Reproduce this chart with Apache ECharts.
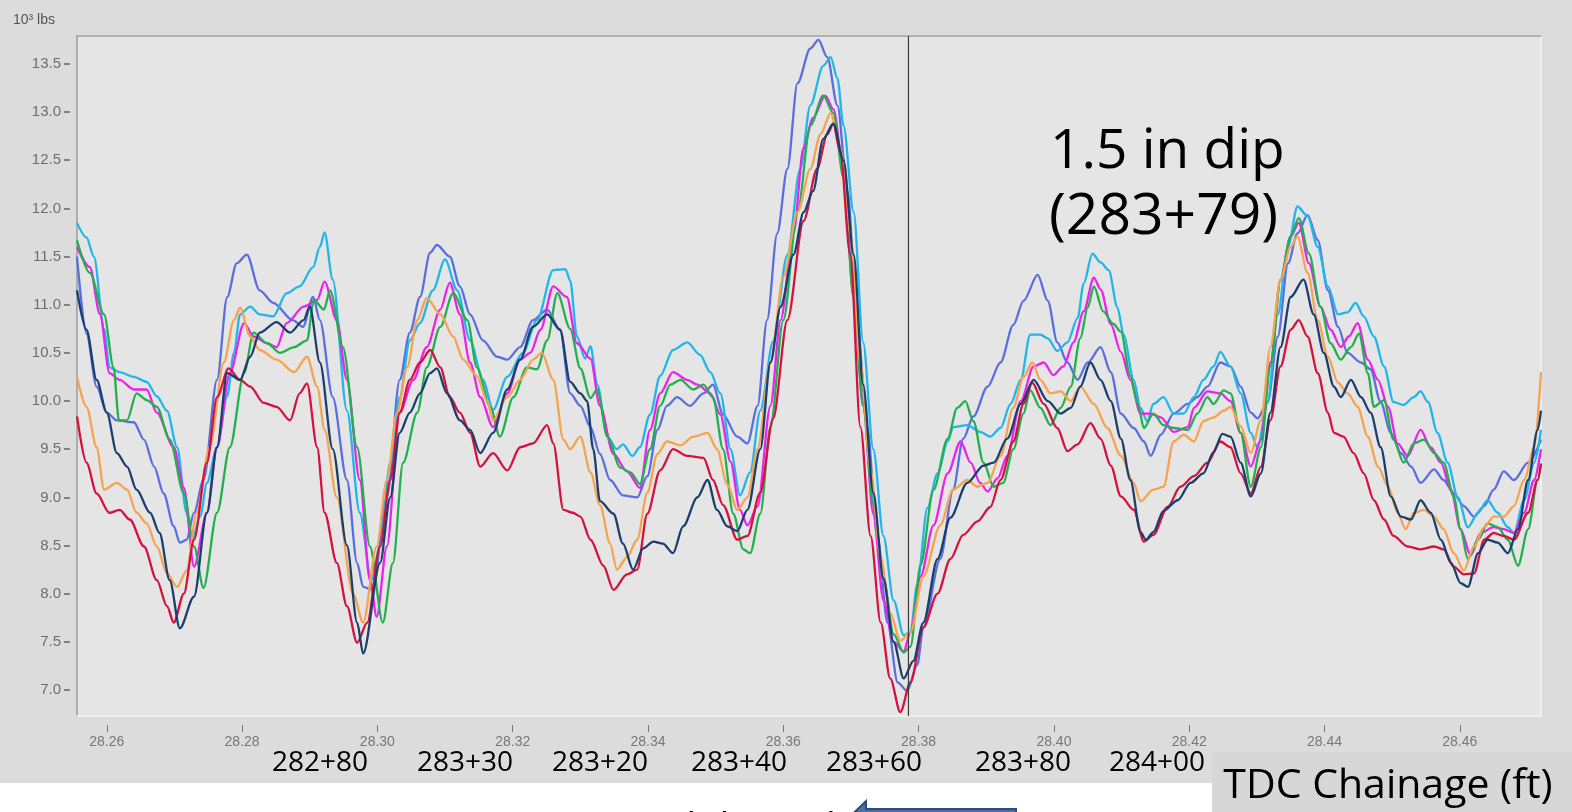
<!DOCTYPE html>
<html><head><meta charset="utf-8">
<script src="https://cdn.jsdelivr.net/npm/echarts@6.0.0/dist/echarts.min.js"></script>
<style>html,body{margin:0;padding:0;background:#fff;overflow:hidden}#c{width:1572px;height:812px}</style>
</head><body><div id="c"></div><script>
// Axis ticks
const xTicks = [28.26, 28.28, 28.30, 28.32, 28.34, 28.36, 28.38, 28.40, 28.42, 28.44, 28.46];
const yTicks = [7.0, 7.5, 8.0, 8.5, 9.0, 9.5, 10.0, 10.5, 11.0, 11.5, 12.0, 12.5, 13.0, 13.5];
const xMin = 28.2556, xMax = 28.4720, yMin = 6.73, yMax = 13.79;
const markerX = 28.3785;
const chainageLabels = ['282+80', '283+30', '283+20', '283+40', '283+60', '283+80', '284+00'];

// Series values: [milepost, load (10^3 lbs)]
const cyanRun = [[28.2556,11.85],[28.2570,11.7],[28.2581,11.5],[28.2596,10.75],[28.2604,10.35],[28.2619,10.3],[28.2640,10.25],[28.2659,10.2],[28.2674,10.05],[28.2689,9.9],[28.2704,9.52],[28.2718,8.84],[28.2726,8.55],[28.2738,8.8],[28.2748,9.15],[28.2763,9.52],[28.2778,10.05],[28.2788,10.5],[28.2797,10.9],[28.2812,10.98],[28.2826,10.9],[28.2846,10.88],[28.2866,11.12],[28.2885,11.19],[28.2905,11.39],[28.2915,11.6],[28.2922,11.75],[28.2934,11.26],[28.2955,9.9],[28.2974,8.84],[28.2991,8.14],[28.3004,8.5],[28.3019,9.36],[28.3033,10.04],[28.3048,10.63],[28.3063,10.81],[28.3082,11.15],[28.3100,11.47],[28.3118,11.15],[28.3137,10.63],[28.3156,10.22],[28.3171,9.91],[28.3192,10.25],[28.3215,10.5],[28.3236,10.84],[28.3260,11.36],[28.3278,11.37],[28.3285,11.25],[28.3295,10.67],[28.3307,10.44],[28.3315,10.57],[28.3325,10.17],[28.3340,9.63],[28.3354,9.5],[28.3363,9.55],[28.3377,9.43],[28.3388,9.52],[28.3403,9.86],[28.3418,10.26],[28.3437,10.53],[28.3458,10.61],[28.3477,10.48],[28.3492,10.3],[28.3507,10.08],[28.3522,9.5],[28.3536,9.02],[28.3551,9.26],[28.3566,9.9],[28.3585,10.62],[28.3606,11.52],[28.3625,12.41],[28.3640,13.07],[28.3659,13.48],[28.3670,13.57],[28.3680,13.35],[28.3689,12.86],[28.3704,11.96],[28.3718,10.61],[28.3733,9.5],[28.3748,8.6],[28.3763,7.93],[28.3778,7.57],[28.3788,7.6],[28.3798,8.1],[28.3813,8.89],[28.3828,9.25],[28.3843,9.58],[28.3851,9.73],[28.3872,9.75],[28.3891,9.68],[28.3906,9.63],[28.3921,9.72],[28.3936,9.97],[28.3951,10.22],[28.3965,10.69],[28.3980,10.69],[28.3991,10.65],[28.4005,10.52],[28.4020,10.61],[28.4035,10.86],[28.4044,11.22],[28.4057,11.53],[28.4069,11.44],[28.4081,11.36],[28.4094,10.97],[28.4103,10.69],[28.4118,10.22],[28.4128,9.93],[28.4138,9.79],[28.4147,9.97],[28.4162,10.04],[28.4177,9.87],[28.4192,9.87],[28.4207,10.04],[28.4221,10.22],[28.4236,10.36],[28.4246,10.51],[28.4261,10.36],[28.4276,10.08],[28.4291,9.67],[28.4301,9.52],[28.4316,9.99],[28.4331,10.9],[28.4346,11.6],[28.4360,12.02],[28.4375,11.92],[28.4390,11.6],[28.4405,11.19],[28.4420,10.9],[28.4434,10.92],[28.4446,11.02],[28.4458,10.88],[28.4473,10.67],[28.4488,10.36],[28.4502,9.99],[28.4517,9.96],[28.4532,10.04],[28.4542,10.1],[28.4553,9.99],[28.4567,9.67],[28.4582,9.36],[28.4597,9.0],[28.4612,8.69],[28.4627,8.84],[28.4641,8.97],[28.4656,8.84],[28.4671,8.69],[28.4680,8.63],[28.4695,8.97],[28.4710,9.36],[28.4720,9.7]];

const blueRun = [[28.2556,11.5],[28.2570,10.7],[28.2585,10.15],[28.2600,9.88],[28.2615,9.8],[28.2640,9.78],[28.2655,9.6],[28.2670,9.32],[28.2684,9.04],[28.2699,8.7],[28.2708,8.53],[28.2718,8.56],[28.2729,8.84],[28.2743,9.18],[28.2763,10.22],[28.2778,11.08],[28.2792,11.43],[28.2807,11.52],[28.2826,11.15],[28.2846,11.02],[28.2875,10.84],[28.2890,10.77],[28.2905,11.08],[28.2915,10.84],[28.2934,10.04],[28.2955,9.18],[28.2970,8.32],[28.2979,8.07],[28.2993,8.04],[28.3014,9.0],[28.3033,10.22],[28.3048,10.71],[28.3063,11.08],[28.3078,11.54],[28.3088,11.62],[28.3107,11.5],[28.3122,11.19],[28.3137,10.9],[28.3156,10.63],[28.3177,10.46],[28.3192,10.43],[28.3211,10.56],[28.3230,10.84],[28.3251,10.95],[28.3270,10.74],[28.3285,10.08],[28.3300,9.95],[28.3315,9.73],[28.3329,9.45],[28.3344,9.18],[28.3363,9.02],[28.3384,9.0],[28.3399,9.22],[28.3414,9.7],[28.3428,9.95],[28.3443,10.04],[28.3462,9.95],[28.3482,10.08],[28.3496,10.17],[28.3511,9.86],[28.3532,9.63],[28.3547,9.56],[28.3562,9.95],[28.3576,10.84],[28.3591,11.74],[28.3606,12.41],[28.3621,13.3],[28.3640,13.66],[28.3652,13.75],[28.3665,13.57],[28.3680,13.07],[28.3695,12.18],[28.3709,10.84],[28.3724,9.73],[28.3739,8.6],[28.3754,7.7],[28.3769,7.08],[28.3783,6.99],[28.3798,7.26],[28.3807,7.65],[28.3832,8.36],[28.3851,9.08],[28.3866,9.61],[28.3881,9.84],[28.3902,10.15],[28.3921,10.4],[28.3940,10.79],[28.3955,11.04],[28.3976,11.31],[28.3991,11.04],[28.4005,10.61],[28.4020,10.4],[28.4035,10.22],[28.4050,10.4],[28.4069,10.56],[28.4084,10.3],[28.4099,9.87],[28.4118,9.72],[28.4133,9.58],[28.4143,9.43],[28.4158,9.65],[28.4177,9.87],[28.4198,9.97],[28.4212,10.04],[28.4227,10.15],[28.4246,10.4],[28.4261,10.36],[28.4276,10.15],[28.4291,9.88],[28.4301,9.82],[28.4316,9.99],[28.4331,10.67],[28.4346,11.43],[28.4360,11.74],[28.4375,11.93],[28.4390,11.67],[28.4405,11.15],[28.4420,10.77],[28.4434,10.5],[28.4454,10.4],[28.4468,10.33],[28.4483,9.99],[28.4498,9.67],[28.4513,9.46],[28.4528,9.32],[28.4542,9.15],[28.4562,9.29],[28.4576,9.18],[28.4591,9.04],[28.4606,8.91],[28.4621,8.8],[28.4636,8.91],[28.4650,9.08],[28.4665,9.27],[28.4680,9.18],[28.4701,9.36],[28.4720,9.6]];

const magentaRun = [[28.2556,11.6],[28.2575,11.39],[28.2590,10.9],[28.2604,10.29],[28.2619,10.22],[28.2640,10.12],[28.2659,10.12],[28.2674,9.88],[28.2699,9.52],[28.2714,9.1],[28.2729,8.28],[28.2748,8.84],[28.2763,9.52],[28.2782,10.29],[28.2803,10.81],[28.2817,10.67],[28.2837,10.6],[28.2851,10.56],[28.2866,10.81],[28.2891,10.98],[28.2911,11.05],[28.2922,11.24],[28.2940,10.84],[28.2955,10.22],[28.2974,9.18],[28.2989,8.14],[28.2999,7.76],[28.3014,8.49],[28.3033,9.88],[28.3053,10.22],[28.3073,10.56],[28.3093,10.95],[28.3107,11.23],[28.3122,10.9],[28.3137,10.4],[28.3152,10.04],[28.3171,9.73],[28.3192,10.08],[28.3211,10.43],[28.3226,10.5],[28.3241,10.74],[28.3260,11.19],[28.3280,11.08],[28.3295,10.6],[28.3315,10.44],[28.3329,9.95],[28.3349,9.45],[28.3369,9.27],[28.3388,9.1],[28.3403,9.7],[28.3418,10.08],[28.3437,10.3],[28.3458,10.22],[28.3473,10.17],[28.3492,10.08],[28.3507,9.86],[28.3522,9.37],[28.3536,8.87],[28.3547,8.71],[28.3562,8.91],[28.3581,9.95],[28.3596,10.84],[28.3615,11.74],[28.3630,12.63],[28.3644,12.94],[28.3662,13.17],[28.3674,13.03],[28.3689,12.41],[28.3704,11.07],[28.3718,9.95],[28.3733,8.83],[28.3748,7.93],[28.3763,7.5],[28.3778,7.4],[28.3788,7.6],[28.3803,8.18],[28.3822,8.71],[28.3843,9.25],[28.3862,9.58],[28.3877,9.36],[28.3891,9.15],[28.3902,9.06],[28.3917,9.2],[28.3931,9.43],[28.3951,10.0],[28.3970,10.36],[28.3985,10.4],[28.3999,10.27],[28.4014,10.36],[28.4029,10.61],[28.4044,10.93],[28.4059,11.28],[28.4069,11.16],[28.4084,10.8],[28.4099,10.51],[28.4113,10.22],[28.4128,9.87],[28.4143,9.87],[28.4158,9.83],[28.4177,9.68],[28.4198,9.73],[28.4207,9.93],[28.4227,10.1],[28.4246,10.08],[28.4261,10.0],[28.4276,9.67],[28.4291,9.32],[28.4306,9.6],[28.4320,10.4],[28.4335,11.26],[28.4350,11.71],[28.4362,11.85],[28.4377,11.43],[28.4394,10.98],[28.4409,10.74],[28.4424,10.56],[28.4436,10.67],[28.4449,10.81],[28.4464,10.43],[28.4479,10.22],[28.4494,9.94],[28.4508,9.56],[28.4523,9.43],[28.4542,9.7],[28.4557,9.52],[28.4572,9.36],[28.4587,9.08],[28.4601,8.67],[28.4616,8.4],[28.4631,8.63],[28.4650,8.69],[28.4665,8.67],[28.4680,8.63],[28.4695,8.84],[28.4710,9.18],[28.4720,9.5]];

const greenRun = [[28.2556,11.67],[28.2575,11.33],[28.2596,10.9],[28.2610,10.35],[28.2618,9.8],[28.2630,9.8],[28.2644,10.08],[28.2659,10.01],[28.2674,9.94],[28.2693,9.6],[28.2714,9.04],[28.2729,8.49],[28.2743,8.06],[28.2763,8.84],[28.2782,9.52],[28.2803,10.29],[28.2817,10.71],[28.2837,10.6],[28.2856,10.5],[28.2877,10.56],[28.2896,10.63],[28.2906,11.05],[28.2921,10.95],[28.2930,11.15],[28.2949,10.56],[28.2970,9.52],[28.2989,8.49],[28.3008,7.7],[28.3023,8.32],[28.3038,9.36],[28.3059,9.88],[28.3073,10.35],[28.3093,10.77],[28.3112,11.12],[28.3133,10.84],[28.3147,10.35],[28.3167,9.94],[28.3181,9.63],[28.3201,10.04],[28.3221,10.35],[28.3236,10.33],[28.3251,10.63],[28.3266,11.12],[28.3285,10.75],[28.3300,10.34],[28.3315,10.03],[28.3325,10.12],[28.3340,9.63],[28.3359,9.31],[28.3374,9.26],[28.3388,9.14],[28.3403,9.5],[28.3418,9.95],[28.3433,10.17],[28.3448,10.22],[28.3467,10.12],[28.3482,10.17],[28.3496,10.04],[28.3511,9.5],[28.3526,8.83],[28.3541,8.46],[28.3551,8.42],[28.3566,8.83],[28.3581,9.73],[28.3600,10.84],[28.3621,11.96],[28.3640,12.86],[28.3659,13.17],[28.3674,12.99],[28.3689,12.32],[28.3704,11.07],[28.3718,9.95],[28.3733,8.92],[28.3748,8.16],[28.3763,7.58],[28.3778,7.39],[28.3788,7.45],[28.3803,8.3],[28.3822,9.08],[28.3843,9.61],[28.3857,9.93],[28.3869,10.0],[28.3881,9.79],[28.3896,9.36],[28.3911,9.11],[28.3925,9.15],[28.3940,9.5],[28.3955,9.87],[28.3965,10.11],[28.3980,9.93],[28.3995,9.75],[28.4010,9.93],[28.4025,10.15],[28.4039,10.65],[28.4050,10.97],[28.4059,11.19],[28.4073,10.93],[28.4088,10.8],[28.4099,10.72],[28.4113,10.26],[28.4124,9.97],[28.4133,9.72],[28.4147,9.87],[28.4162,9.75],[28.4177,9.72],[28.4198,9.7],[28.4212,9.87],[28.4227,10.04],[28.4236,9.97],[28.4251,10.11],[28.4261,10.08],[28.4276,9.67],[28.4291,9.11],[28.4306,9.52],[28.4320,10.36],[28.4335,11.26],[28.4350,11.71],[28.4362,11.9],[28.4377,11.53],[28.4394,10.98],[28.4409,10.6],[28.4424,10.43],[28.4439,10.56],[28.4451,10.7],[28.4464,10.29],[28.4473,9.94],[28.4488,10.01],[28.4502,9.6],[28.4517,9.36],[28.4532,9.56],[28.4547,9.6],[28.4562,9.46],[28.4576,9.36],[28.4591,9.01],[28.4601,8.67],[28.4612,8.36],[28.4627,8.56],[28.4641,8.73],[28.4656,8.69],[28.4671,8.56],[28.4686,8.29],[28.4701,8.67],[28.4715,9.18],[28.4720,9.35]];

const orangeRun = [[28.2556,10.25],[28.2570,9.94],[28.2585,9.52],[28.2596,9.08],[28.2615,9.15],[28.2630,9.08],[28.2644,8.84],[28.2659,8.73],[28.2674,8.49],[28.2689,8.21],[28.2704,8.07],[28.2718,8.24],[28.2733,8.84],[28.2752,9.52],[28.2773,10.4],[28.2788,10.84],[28.2797,10.97],[28.2812,10.67],[28.2826,10.53],[28.2851,10.43],[28.2877,10.3],[28.2896,10.46],[28.2911,10.15],[28.2922,9.7],[28.2940,9.0],[28.2964,8.0],[28.2979,7.7],[28.2999,8.49],[28.3014,9.18],[28.3029,9.88],[28.3044,10.35],[28.3059,10.84],[28.3073,11.07],[28.3093,10.9],[28.3112,10.67],[28.3127,10.43],[28.3147,10.26],[28.3162,10.01],[28.3171,9.8],[28.3192,10.04],[28.3211,10.22],[28.3230,10.43],[28.3243,10.5],[28.3260,10.22],[28.3275,9.6],[28.3285,9.5],[28.3300,9.63],[28.3315,9.26],[28.3329,8.92],[28.3344,8.52],[28.3354,8.25],[28.3369,8.38],[28.3384,8.56],[28.3399,9.05],[28.3414,9.45],[28.3428,9.58],[28.3448,9.54],[28.3467,9.63],[28.3488,9.67],[28.3502,9.5],[28.3517,9.14],[28.3532,8.87],[28.3547,9.0],[28.3562,9.5],[28.3581,10.4],[28.3600,11.29],[28.3621,11.96],[28.3640,12.41],[28.3655,12.77],[28.3670,12.99],[28.3684,12.63],[28.3699,11.74],[28.3714,10.4],[28.3729,9.28],[28.3744,8.38],[28.3758,7.8],[28.3773,7.51],[28.3788,7.6],[28.3807,8.18],[28.3832,8.71],[28.3851,9.08],[28.3872,9.18],[28.3887,9.11],[28.3902,9.15],[28.3921,9.43],[28.3940,9.93],[28.3955,10.25],[28.3968,10.4],[28.3980,10.22],[28.3995,10.08],[28.4010,10.1],[28.4025,10.0],[28.4039,10.15],[28.4059,9.97],[28.4079,9.72],[28.4099,9.43],[28.4118,9.15],[28.4128,8.96],[28.4147,9.08],[28.4162,9.11],[28.4177,9.58],[28.4192,9.65],[28.4207,9.58],[28.4221,9.79],[28.4236,9.83],[28.4251,9.9],[28.4261,9.94],[28.4276,9.74],[28.4291,9.46],[28.4306,9.8],[28.4320,10.56],[28.4335,11.26],[28.4350,11.6],[28.4360,11.71],[28.4375,11.33],[28.4390,10.84],[28.4405,10.46],[28.4420,10.19],[28.4434,10.08],[28.4449,9.94],[28.4464,9.63],[28.4479,9.32],[28.4494,9.11],[28.4508,8.84],[28.4520,8.67],[28.4532,8.84],[28.4547,8.87],[28.4562,8.8],[28.4576,8.67],[28.4591,8.42],[28.4606,8.24],[28.4621,8.49],[28.4636,8.69],[28.4650,8.8],[28.4665,8.8],[28.4680,8.91],[28.4695,9.18],[28.4710,9.52],[28.4720,10.3]];

const crimsonRun = [[28.2556,9.84],[28.2570,9.36],[28.2585,9.04],[28.2604,8.84],[28.2619,8.87],[28.2634,8.77],[28.2655,8.49],[28.2674,8.14],[28.2689,7.87],[28.2699,7.7],[28.2714,8.0],[28.2729,8.56],[28.2748,9.36],[28.2763,10.04],[28.2780,10.34],[28.2797,10.22],[28.2812,10.15],[28.2832,9.98],[28.2851,9.94],[28.2871,9.8],[28.2885,10.08],[28.2896,10.18],[28.2911,9.52],[28.2922,8.84],[28.2940,8.32],[28.2955,7.87],[28.2970,7.49],[28.2985,7.7],[28.3004,8.49],[28.3019,9.18],[28.3033,9.88],[28.3048,10.22],[28.3063,10.4],[28.3078,10.53],[28.3093,10.35],[28.3107,10.04],[28.3122,9.88],[28.3137,9.67],[28.3152,9.32],[28.3171,9.46],[28.3192,9.28],[28.3211,9.52],[28.3230,9.56],[28.3251,9.75],[28.3260,9.56],[28.3275,8.87],[28.3289,8.84],[28.3300,8.8],[28.3315,8.56],[28.3334,8.29],[28.3349,8.04],[28.3369,8.2],[28.3384,8.25],[28.3399,8.83],[28.3418,9.28],[28.3437,9.5],[28.3458,9.43],[28.3482,9.41],[28.3496,9.18],[28.3511,8.92],[28.3532,8.56],[28.3547,8.6],[28.3566,9.05],[28.3585,9.82],[28.3606,10.84],[28.3630,11.87],[28.3650,12.41],[28.3665,12.77],[28.3674,12.88],[28.3684,12.59],[28.3699,11.52],[28.3714,9.73],[28.3729,8.6],[28.3744,7.7],[28.3758,7.12],[28.3773,6.77],[28.3788,7.08],[28.3807,7.65],[28.3828,8.0],[28.3847,8.36],[28.3866,8.61],[28.3887,8.75],[28.3906,8.9],[28.3921,9.18],[28.3940,9.58],[28.3955,9.97],[28.3968,10.19],[28.3985,9.97],[28.4005,9.72],[28.4020,9.48],[28.4035,9.55],[28.4054,9.77],[28.4069,9.61],[28.4084,9.33],[28.4099,9.01],[28.4118,8.87],[28.4133,8.54],[28.4147,8.61],[28.4168,8.9],[28.4187,9.11],[28.4207,9.22],[28.4227,9.36],[28.4246,9.58],[28.4261,9.52],[28.4276,9.25],[28.4291,9.04],[28.4306,9.32],[28.4320,9.8],[28.4335,10.36],[28.4350,10.74],[28.4362,10.84],[28.4375,10.67],[28.4390,10.29],[28.4405,9.88],[28.4414,9.67],[28.4428,9.63],[28.4443,9.46],[28.4458,9.25],[28.4473,8.97],[28.4488,8.77],[28.4502,8.6],[28.4523,8.49],[28.4542,8.46],[28.4562,8.49],[28.4576,8.46],[28.4591,8.28],[28.4606,8.2],[28.4621,8.21],[28.4636,8.56],[28.4650,8.63],[28.4665,8.6],[28.4680,8.56],[28.4701,8.84],[28.4715,9.18],[28.4720,9.35]];

const navyRun = [[28.2556,11.15],[28.2570,10.74],[28.2585,10.22],[28.2600,9.88],[28.2615,9.46],[28.2630,9.32],[28.2644,9.08],[28.2664,8.84],[28.2678,8.63],[28.2693,8.14],[28.2708,7.64],[28.2729,7.97],[28.2748,8.84],[28.2763,9.52],[28.2778,10.29],[28.2797,10.22],[28.2812,10.46],[28.2826,10.71],[28.2851,10.82],[28.2871,10.71],[28.2891,10.84],[28.2900,10.98],[28.2915,10.4],[28.2934,9.5],[28.2955,8.5],[28.2970,7.7],[28.2979,7.38],[28.3004,8.32],[28.3019,9.0],[28.3033,9.67],[28.3048,9.88],[28.3063,10.08],[28.3078,10.29],[28.3088,10.34],[28.3103,10.08],[28.3122,9.8],[28.3137,9.7],[28.3152,9.46],[28.3171,9.67],[28.3192,10.12],[28.3211,10.43],[28.3230,10.77],[28.3251,10.9],[28.3270,10.74],[28.3285,10.2],[28.3300,10.08],[28.3310,10.0],[28.3319,9.5],[28.3329,8.96],[28.3349,8.83],[28.3363,8.52],[28.3378,8.25],[28.3393,8.47],[28.3408,8.54],[28.3422,8.52],[28.3437,8.42],[28.3452,8.7],[28.3473,9.0],[28.3488,9.18],[28.3502,8.87],[28.3517,8.7],[28.3532,8.65],[28.3547,8.87],[28.3566,9.5],[28.3581,10.4],[28.3596,10.98],[28.3615,11.52],[28.3630,11.96],[28.3644,12.18],[28.3659,12.72],[28.3674,12.88],[28.3689,12.5],[28.3704,11.52],[28.3718,10.17],[28.3733,9.05],[28.3748,8.16],[28.3763,7.5],[28.3778,7.12],[28.3792,7.3],[28.3807,7.7],[28.3828,8.36],[28.3847,8.79],[28.3872,9.15],[28.3896,9.33],[28.3911,9.36],[28.3931,9.61],[28.3951,9.97],[28.3970,10.22],[28.3991,10.0],[28.4010,9.87],[28.4025,9.93],[28.4039,10.15],[28.4054,10.4],[28.4069,10.22],[28.4084,10.0],[28.4099,9.61],[28.4113,9.18],[28.4128,8.64],[28.4136,8.56],[28.4147,8.64],[28.4162,8.86],[28.4183,8.97],[28.4202,9.15],[28.4221,9.25],[28.4236,9.47],[28.4249,9.66],[28.4261,9.63],[28.4276,9.36],[28.4291,9.01],[28.4306,9.25],[28.4320,9.88],[28.4335,10.56],[28.4350,11.08],[28.4369,11.26],[28.4384,10.9],[28.4399,10.5],[28.4414,10.15],[28.4424,10.04],[28.4439,10.22],[28.4454,10.04],[28.4468,9.88],[28.4483,9.52],[28.4498,9.01],[28.4513,8.8],[28.4528,8.77],[28.4542,8.97],[28.4557,8.84],[28.4572,8.56],[28.4587,8.32],[28.4601,8.11],[28.4612,8.07],[28.4627,8.42],[28.4641,8.56],[28.4656,8.53],[28.4671,8.42],[28.4686,8.67],[28.4701,9.18],[28.4715,9.7],[28.4720,9.9]];

const runs = [
  { name: 'Run 1', data: blueRun, color: '#5a6ee0' },
  { name: 'Run 2', data: cyanRun, color: '#21b6ea' },
  { name: 'Run 3', data: magentaRun, color: '#ec22ec' },
  { name: 'Run 4', data: greenRun, color: '#22b04e' },
  { name: 'Run 5', data: orangeRun, color: '#f6a34e' },
  { name: 'Run 6', data: crimsonRun, color: '#d3123f' },
  { name: 'Run 7', data: navyRun, color: '#1a3f6d' }
];

const chart = echarts.init(document.getElementById('c'), null, { renderer: 'canvas' });
const tickFont = 'Liberation Sans, Arial, sans-serif';
const axisBase = { type: 'value', min: xMin, max: xMax };
const yBase = { type: 'value', min: yMin, max: yMax };
const hidden = { axisTick: { show: false }, axisLabel: { show: false }, splitLine: { show: false } };

const series = runs.map((r, i) => ({
  type: 'line', name: r.name, data: r.data, xAxisIndex: 0, yAxisIndex: 0,
  showSymbol: false, symbol: 'none', smooth: 0.3, smoothMonotone: 'x',
  lineStyle: { color: r.color, width: 2.3 }, itemStyle: { color: r.color },
  z: 3 + i, animation: false
}));
// vertical cursor at the dip location
series.push({
  type: 'line', name: 'cursor', data: [[markerX, yMin], [markerX, yMax]],
  xAxisIndex: 0, yAxisIndex: 0, showSymbol: false, symbol: 'none', silent: true,
  lineStyle: { color: '#3a3a3a', width: 1.2 }, z: 20, animation: false
});

const labelCenters = [320, 465, 600, 739, 874, 1023, 1157];
const graphics = [
  { type: 'rect', shape: { x: 0, y: 783, width: 1212, height: 29 }, style: { fill: '#ffffff' }, silent: true },
  { type: 'rect', shape: { x: 1212, y: 752, width: 360, height: 60 }, style: { fill: '#d7d7d7' }, silent: true },
  { type: 'text', x: 1050, y: 152, style: { text: '1.5 in dip', font: '55px "Open Sans", sans-serif', fill: '#000', align: 'left', verticalAlign: 'middle' } },
  { type: 'text', x: 1049, y: 218, style: { text: '(283+79)', font: '57px "Open Sans", sans-serif', fill: '#000', align: 'left', verticalAlign: 'middle' } },
  { type: 'text', x: 1388, y: 786, style: { text: 'TDC Chainage (ft)', font: '41px "Open Sans", sans-serif', fill: '#000', align: 'center', verticalAlign: 'middle' } },
  { type: 'text', x: 606, y: 829, style: { text: 'South bound', font: '38px "Open Sans", sans-serif', fill: '#000', align: 'left', verticalAlign: 'middle' } },
  { type: 'polygon', shape: { points: [[830, 836], [866, 801], [866, 809], [1016, 809], [1016, 866], [866, 866], [866, 872]] }, style: { fill: '#4a6fa5', stroke: '#2f4b7c', lineWidth: 2 } }
].concat(chainageLabels.map((t, i) => ({
  type: 'text', x: labelCenters[i], y: 763,
  style: { text: t, font: '28px "Open Sans", sans-serif', fill: '#000', align: 'center', verticalAlign: 'middle' }
})));

chart.setOption({
  animation: false,
  backgroundColor: '#dcdcdc',
  title: { text: '10³ lbs', left: 8, top: 8, textStyle: { fontSize: 14, fontWeight: 'normal', color: '#555', fontFamily: tickFont } },
  grid: { left: 77, right: 31, top: 36, bottom: 96, show: true, backgroundColor: '#e5e5e5', borderWidth: 0 },
  xAxis: [
    Object.assign({}, axisBase, {
      position: 'bottom', offset: 9,
      axisLine: { show: false },
      axisTick: { show: true, length: 7, customValues: xTicks, lineStyle: { color: '#777', width: 1 } },
      axisLabel: { show: true, customValues: xTicks, margin: 10, color: '#777', fontSize: 14, fontFamily: tickFont, formatter: v => v.toFixed(2) },
      splitLine: { show: false }
    }),
    Object.assign({}, axisBase, hidden, { position: 'top', axisLine: { show: true, lineStyle: { color: '#a2a2a2', width: 1.5 } } }),
    Object.assign({}, axisBase, hidden, { position: 'bottom', axisLine: { show: true, lineStyle: { color: '#f4f4f4', width: 1.5 } } })
  ],
  yAxis: [
    Object.assign({}, yBase, {
      position: 'left', offset: 7,
      axisLine: { show: false },
      axisTick: { show: true, length: 6, customValues: yTicks, lineStyle: { color: '#666', width: 1.5 } },
      axisLabel: { show: true, customValues: yTicks, margin: 9, color: '#6e6e6e', fontSize: 15, fontFamily: tickFont, formatter: v => v.toFixed(1) },
      splitLine: { show: false }
    }),
    Object.assign({}, yBase, hidden, { position: 'left', axisLine: { show: true, lineStyle: { color: '#9c9c9c', width: 1.5 } } }),
    Object.assign({}, yBase, hidden, { position: 'right', axisLine: { show: true, lineStyle: { color: '#f4f4f4', width: 1.5 } } })
  ],
  series: series,
  graphic: graphics
});
</script></body></html>
